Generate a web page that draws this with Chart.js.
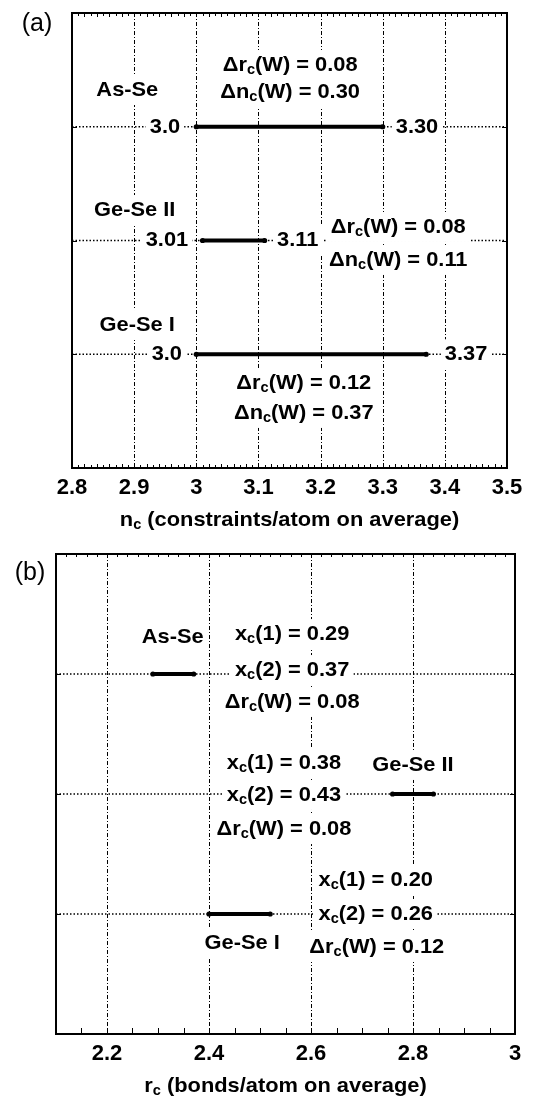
<!DOCTYPE html>
<html><head><meta charset="utf-8">
<script src="https://cdn.jsdelivr.net/npm/chart.js@4.4.1/dist/chart.umd.min.js"></script>
<style>
html,body{margin:0;padding:0;background:#fff;}
#wrap{position:relative;width:546px;height:1100px;background:#fff;}
.panel{position:absolute;left:0;width:546px;}
canvas{display:block;}
</style></head><body>
<div id="wrap">
<div class="panel" style="top:0;height:545px"><canvas id="ca" width="546" height="545"></canvas></div>
<div class="panel" style="top:545px;height:555px"><canvas id="cb" width="546" height="555"></canvas></div>
</div>
<script>
// ---------- data ----------
const systems = ['As-Se', 'Ge-Se II', 'Ge-Se I'];
const rowLevel = [3, 2, 1];
const ncStart = [3.0, 3.01, 3.0];
const ncEnd = [3.30, 3.11, 3.37];
const ncStartText = ['3.0', '3.01', '3.0'];
const ncEndText = ['3.30', '3.11', '3.37'];
const dRcW = ['0.08', '0.08', '0.12'];
const dNcW = ['0.30', '0.11', '0.37'];
const xc1 = ['0.29', '0.38', '0.20'];
const xc2 = ['0.37', '0.43', '0.26'];
const rcStart = [2.29, 2.76, 2.40];
const rcEnd = [2.37, 2.84, 2.52];
const ncTicks = [2.8, 2.9, 3.0, 3.1, 3.2, 3.3, 3.4, 3.5];
const ncTickLabels = ['2.8', '2.9', '3', '3.1', '3.2', '3.3', '3.4', '3.5'];
const rcTicks = [2.2, 2.4, 2.6, 2.8, 3.0];
const rcTickLabels = ['2.2', '2.4', '2.6', '2.8', '3'];
const ncTitle = 'n_c (constraints/atom on average)';
const rcTitle = 'r_c (bonds/atom on average)';

const FONT = '"Liberation Sans", Arial, Helvetica, sans-serif';
const STRETCH = 1.04;

// ---------- rich text (subscript "_c") ----------
function parseRich(t) {
  const segs = []; let cur = '';
  for (let i = 0; i < t.length; i++) {
    if (t[i] === '_' && i + 1 < t.length) {
      if (cur) segs.push({s: cur, sub: false}); cur = '';
      segs.push({s: t[i + 1], sub: true}); i++;
    } else cur += t[i];
  }
  if (cur) segs.push({s: cur, sub: false});
  return segs;
}
function drawRich(ctx, text, x, y, align, box) {
  const segs = parseRich(text);
  const mainF = 'bold 21px ' + FONT, subF = 'bold 14px ' + FONT;
  let w = 0;
  segs.forEach(g => { ctx.font = g.sub ? subF : mainF; g.w = ctx.measureText(g.s).width * STRETCH; w += g.w; });
  let sx = align === 'left' ? x : align === 'right' ? x - w : x - w / 2;
  if (box) { ctx.fillStyle = '#fff'; ctx.fillRect(sx - 4, y - 15, w + 8, 30); }
  ctx.fillStyle = '#000'; ctx.textBaseline = 'middle'; ctx.textAlign = 'left';
  segs.forEach(g => {
    ctx.font = g.sub ? subF : mainF;
    ctx.save();
    ctx.translate(sx, g.sub ? y + 5 : y);
    ctx.scale(STRETCH, 1);
    ctx.fillText(g.s, 0, 0);
    ctx.restore();
    sx += g.w;
  });
}

// ---------- panel configs ----------
const panelA = {
  id: 'a', canvas: 'ca', letter: '(a)', letterPos: [37, 24],
  min: 2.8, max: 3.5, ticks: ncTicks, tickLabels: ncTickLabels, title: ncTitle,
  start: ncStart, end: ncEnd,
  padding: {left: 72, right: 39, top: 13, bottom: 0}, axisHeight: 77, tickPad: 7,
  minor: [{step: 0.01, side: 'bottom'}, {step: 0.01, side: 'top'}],
  notes: [
    {t: systems[0], x: 2.889, y: 3.323, a: 'center'},
    {t: 'Δr_c(W) = ' + dRcW[0], x: 3.151, y: 3.543, a: 'center'},
    {t: 'Δn_c(W) = ' + dNcW[0], x: 3.151, y: 3.305, a: 'center'},
    {t: ncStartText[0], x: 2.974, y: rowLevel[0], a: 'right'},
    {t: ncEndText[0], x: 3.321, y: rowLevel[0], a: 'left'},
    {t: systems[1], x: 2.901, y: 2.268, a: 'center'},
    {t: ncStartText[1], x: 2.987, y: rowLevel[1], a: 'right'},
    {t: ncEndText[1], x: 3.130, y: rowLevel[1], a: 'left'},
    {t: 'Δr_c(W) = ' + dRcW[1], x: 3.325, y: 2.119, a: 'center'},
    {t: 'Δn_c(W) = ' + dNcW[1], x: 3.325, y: 1.829, a: 'center'},
    {t: systems[2], x: 2.905, y: 1.257, a: 'center'},
    {t: ncStartText[2], x: 2.977, y: rowLevel[2], a: 'right'},
    {t: ncEndText[2], x: 3.400, y: rowLevel[2], a: 'left'},
    {t: 'Δr_c(W) = ' + dRcW[2], x: 3.173, y: 0.747, a: 'center'},
    {t: 'Δn_c(W) = ' + dNcW[2], x: 3.173, y: 0.484, a: 'center'}
  ]
};
const panelB = {
  id: 'b', canvas: 'cb', letter: '(b)', letterPos: [30, 28],
  min: 2.1, max: 3.0, ticks: rcTicks, tickLabels: rcTickLabels, title: rcTitle,
  start: rcStart, end: rcEnd,
  padding: {left: 56, right: 31, top: 9, bottom: 0}, axisHeight: 66, tickPad: 7,
  minor: [{step: 0.05, side: 'bottom', len: 6}, {step: 0.02, side: 'top', len: 3}],
  notes: [
    {t: systems[0], x: 2.329, y: 3.308, a: 'center'},
    {t: 'x_c(1) = ' + xc1[0], x: 2.563, y: 3.333, a: 'center'},
    {t: 'x_c(2) = ' + xc2[0], x: 2.563, y: 3.033, a: 'center'},
    {t: 'Δr_c(W) = ' + dRcW[0], x: 2.563, y: 2.767, a: 'center'},
    {t: 'x_c(1) = ' + xc1[1], x: 2.547, y: 2.258, a: 'center'},
    {t: 'x_c(2) = ' + xc2[1], x: 2.547, y: 1.992, a: 'center'},
    {t: 'Δr_c(W) = ' + dRcW[1], x: 2.547, y: 1.708, a: 'center'},
    {t: systems[1], x: 2.800, y: 2.242, a: 'center'},
    {t: 'x_c(1) = ' + xc1[2], x: 2.727, y: 1.283, a: 'center'},
    {t: 'x_c(2) = ' + xc2[2], x: 2.727, y: 1.0, a: 'center'},
    {t: 'Δr_c(W) = ' + dRcW[2], x: 2.729, y: 0.725, a: 'center'},
    {t: systems[2], x: 2.465, y: 0.758, a: 'center'}
  ]
};

function decor(cfg) {
  return {
    id: 'decor_' + cfg.id,
    beforeDatasetsDraw(chart) {
      const {ctx, chartArea: a, scales: {x}} = chart;
      ctx.save();
      ctx.strokeStyle = '#000'; ctx.lineWidth = 1; ctx.setLineDash([4, 2, 1, 2]);
      cfg.ticks.filter(v => v > cfg.min && v < cfg.max).forEach(v => {
        const px = Math.round(x.getPixelForValue(v)) + 0.5;
        ctx.beginPath(); ctx.moveTo(px, a.top); ctx.lineTo(px, a.bottom); ctx.stroke();
      });
      ctx.restore();
    },
    afterDatasetsDraw(chart) {
      const {ctx, scales: {x, y}} = chart;
      ctx.save();
      cfg.notes.forEach(n => drawRich(ctx, n.t, x.getPixelForValue(n.x), y.getPixelForValue(n.y), n.a, true));
      ctx.restore();
    },
    afterDraw(chart) {
      const {ctx, chartArea: a, scales: {x, y}} = chart;
      ctx.save();
      ctx.strokeStyle = '#000'; ctx.lineWidth = 1;
      cfg.minor.forEach(m => {
        const k0 = Math.ceil(cfg.min / m.step - 1e-6), k1 = Math.floor(cfg.max / m.step + 1e-6);
        for (let k = k0; k <= k1; k++) {
          const v = k * m.step;
          const px = Math.round(x.getPixelForValue(v)) + 0.5;
          const len = m.len ? m.len : (k % 2 === 0 ? 4 : 3);
          ctx.beginPath();
          if (m.side === 'bottom') { ctx.moveTo(px, a.bottom); ctx.lineTo(px, a.bottom - len); }
          else { ctx.moveTo(px, a.top); ctx.lineTo(px, a.top + len); }
          ctx.stroke();
        }
      });
      rowLevel.forEach(lv => {
        const py = Math.round(y.getPixelForValue(lv)) + 0.5;
        ctx.beginPath(); ctx.moveTo(a.left, py); ctx.lineTo(a.left + 5, py);
        ctx.moveTo(a.right, py); ctx.lineTo(a.right - 5, py); ctx.stroke();
      });
      ctx.lineWidth = 2;
      ctx.strokeRect(Math.round(a.left), Math.round(a.top), Math.round(a.right - a.left), Math.round(a.bottom - a.top));
      drawRich(ctx, cfg.title, (a.left + a.right) / 2, a.bottom + 52, 'center', false);
      ctx.font = '25px ' + FONT; ctx.fillStyle = '#000'; ctx.textAlign = 'center'; ctx.textBaseline = 'middle';
      ctx.fillText(cfg.letter, cfg.letterPos[0], cfg.letterPos[1]);
      ctx.restore();
    }
  };
}

function makePanel(cfg) {
  const datasets = [];
  rowLevel.forEach((lv, i) => {
    datasets.push({
      data: [{x: cfg.min, y: lv}, {x: cfg.max, y: lv}],
      borderColor: '#000', borderWidth: 1.6, borderDash: [1.5, 2],
      pointRadius: 0, showLine: true, order: 5
    });
    datasets.push({
      data: [{x: cfg.start[i], y: lv}, {x: cfg.end[i], y: lv}],
      borderColor: '#000', borderWidth: 4, borderCapStyle: 'butt',
      pointRadius: 2.6, pointBackgroundColor: '#000', pointBorderWidth: 0,
      showLine: true, order: 1
    });
  });
  return new Chart(document.getElementById(cfg.canvas), {
    type: 'scatter',
    data: {datasets},
    options: {
      responsive: false, maintainAspectRatio: false, animation: false, devicePixelRatio: 1, events: [],
      layout: {padding: cfg.padding},
      plugins: {legend: {display: false}, tooltip: {enabled: false}},
      scales: {
        x: {
          type: 'linear', min: cfg.min, max: cfg.max,
          grid: {display: false, drawTicks: false}, border: {display: false},
          afterBuildTicks: s => { s.ticks = cfg.ticks.map(v => ({value: v})); },
          afterFit: s => { s.height = cfg.axisHeight; },
          ticks: {
            autoSkip: false, maxRotation: 0, minRotation: 0, padding: cfg.tickPad, color: '#000',
            font: {family: FONT, size: 22, weight: 'bold'},
            callback: v => { const i = cfg.ticks.findIndex(t => Math.abs(t - v) < 1e-9); return i >= 0 ? cfg.tickLabels[i] : ''; }
          }
        },
        y: {type: 'linear', min: 0, max: 4, display: false}
      }
    },
    plugins: [decor(cfg)]
  });
}

makePanel(panelA);
makePanel(panelB);
</script>
</body></html>
